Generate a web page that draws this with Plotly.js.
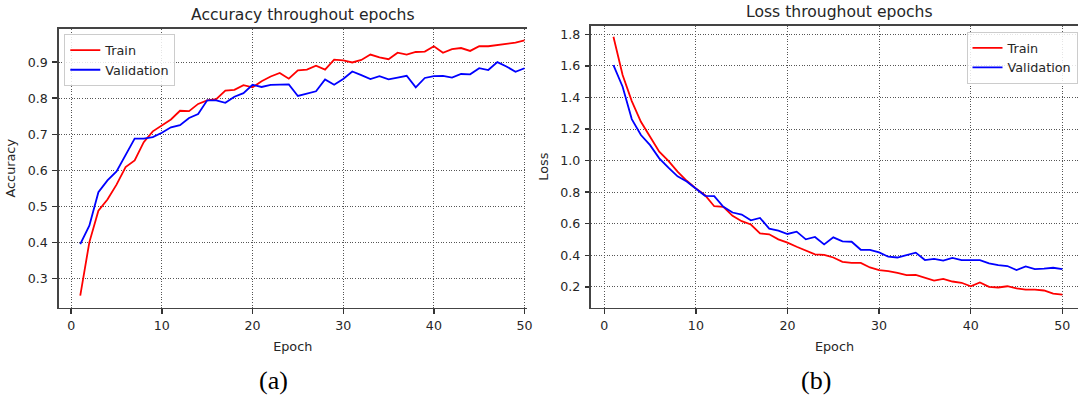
<!DOCTYPE html>
<html>
<head>
<meta charset="utf-8">
<script src="https://cdn.plot.ly/plotly-3.0.1.min.js"></script>
<style>html,body{margin:0;padding:0;background:#fff;}#chart{width:1078px;height:395px;}</style>
</head>
<body>
<div id="chart"></div>
<script>
const epochs = [1,2,3,4,5,6,7,8,9,10,11,12,13,14,15,16,17,18,19,20,21,22,23,24,25,26,27,28,29,30,31,32,33,34,35,36,37,38,39,40,41,42,43,44,45,46,47,48,49,50];

const accTrain = [0.252,0.400,0.488,0.519,0.560,0.609,0.627,0.678,0.708,0.725,
                  0.741,0.765,0.764,0.784,0.794,0.797,0.821,0.823,0.836,0.830,
                  0.847,0.860,0.870,0.854,0.877,0.879,0.890,0.879,0.907,0.905,
                  0.899,0.906,0.921,0.913,0.908,0.926,0.921,0.928,0.929,0.944,
                  0.926,0.936,0.939,0.931,0.944,0.944,0.947,0.951,0.954,0.960];
const accVal = [0.395,0.446,0.539,0.572,0.597,0.641,0.688,0.688,0.692,0.704,
                0.719,0.725,0.745,0.756,0.794,0.794,0.787,0.804,0.814,0.837,
                0.831,0.837,0.837,0.838,0.806,0.812,0.819,0.852,0.837,0.853,
                0.874,0.864,0.853,0.861,0.852,0.857,0.862,0.830,0.856,0.861,
                0.862,0.857,0.867,0.866,0.883,0.878,0.900,0.888,0.873,0.883];
const lossTrain = [1.785,1.542,1.377,1.246,1.151,1.056,0.998,0.930,0.872,0.823,
                   0.781,0.711,0.707,0.650,0.616,0.595,0.539,0.533,0.501,0.480,
                   0.454,0.429,0.406,0.403,0.386,0.359,0.352,0.352,0.323,0.306,
                   0.300,0.289,0.274,0.276,0.260,0.240,0.251,0.234,0.226,0.204,
                   0.228,0.200,0.196,0.204,0.191,0.183,0.183,0.177,0.157,0.151];
const lossVal = [1.605,1.468,1.263,1.162,1.098,1.014,0.955,0.900,0.868,0.823,
                 0.777,0.775,0.707,0.671,0.658,0.622,0.637,0.569,0.556,0.535,
                 0.550,0.501,0.516,0.469,0.514,0.488,0.486,0.435,0.435,0.418,
                 0.391,0.386,0.401,0.417,0.370,0.377,0.366,0.383,0.370,0.370,
                 0.370,0.349,0.338,0.332,0.306,0.330,0.313,0.315,0.321,0.313];

const seriesNames = ["Train", "Validation"];
const panelTitles = ["Accuracy throughout epochs", "Loss throughout epochs"];
const yTitles = ["Accuracy", "Loss"];
const xTitle = "Epoch";
const panelLabels = ["(a)", "(b)"];
const xTicks = [0,10,20,30,40,50];
const accTicks = [0.3,0.4,0.5,0.6,0.7,0.8,0.9];
const lossTicks = [0.2,0.4,0.6,0.8,1.0,1.2,1.4,1.6,1.8];

const RED = '#ff0000', BLUE = '#0000ff';
const FONT = 'DejaVu Sans, sans-serif';
const TXT = '#262626';
const W = 1078, H = 395;
const px = v => v / W;
const py = v => (H - v) / H;

const traces = [
  {x: epochs, y: accTrain, name: seriesNames[0], type: 'scatter', mode: 'lines', line: {color: RED, width: 1.8}, xaxis: 'x', yaxis: 'y', legend: 'legend'},
  {x: epochs, y: accVal, name: seriesNames[1], type: 'scatter', mode: 'lines', line: {color: BLUE, width: 1.8}, xaxis: 'x', yaxis: 'y', legend: 'legend'},
  {x: epochs, y: lossTrain, name: seriesNames[0], type: 'scatter', mode: 'lines', line: {color: RED, width: 1.8}, xaxis: 'x2', yaxis: 'y2', legend: 'legend2'},
  {x: epochs, y: lossVal, name: seriesNames[1], type: 'scatter', mode: 'lines', line: {color: BLUE, width: 1.8}, xaxis: 'x2', yaxis: 'y2', legend: 'legend2'}
];

const common = {
  showgrid: true, gridcolor: '#555', griddash: '1px,1.6px', gridwidth: 1,
  zeroline: false, showline: true, linecolor: '#444', linewidth: 1.6,
  ticks: 'outside', ticklen: 4.5, tickwidth: 1.4, tickcolor: '#333',
  tickfont: {family: FONT, size: 12.6, color: TXT}
};

const legendStyle = {
  bgcolor: 'rgba(255,255,255,0.85)', bordercolor: '#cccccc', borderwidth: 1,
  font: {family: FONT, size: 12.8, color: TXT},
  xanchor: 'left', yanchor: 'top', tracegroupgap: 0
};

const layout = {
  width: W, height: H,
  margin: {l: 0, r: 0, t: 0, b: 0},
  paper_bgcolor: '#fff', plot_bgcolor: '#fff',
  showlegend: true,
  xaxis: Object.assign({}, common, {
    domain: [px(58.5), px(527)], range: [-1.4, 50.27], tickvals: xTicks, mirror: true,
    ticklabelstandoff: 1,
    anchor: 'y', title: {text: xTitle, font: {family: FONT, size: 12.8, color: TXT}, standoff: 10}
  }),
  yaxis: Object.assign({}, common, {
    domain: [py(307.5), py(29)], range: [0.2193, 0.9918], tickvals: accTicks, tickformat: '.1f',
    ticklabelstandoff: 2,
    anchor: 'x', title: {text: yTitles[0], font: {family: FONT, size: 12.8, color: TXT}, standoff: 9}
  }),
  xaxis2: Object.assign({}, common, {
    domain: [px(591), 1], range: [-1.45, 51.71], tickvals: xTicks, mirror: true,
    ticklabelstandoff: 1,
    anchor: 'y2', title: {text: xTitle, font: {family: FONT, size: 12.8, color: TXT}, standoff: 10}
  }),
  yaxis2: Object.assign({}, common, {
    domain: [py(307.5), py(25.7)], range: [0.0693, 1.8546], tickvals: lossTicks, tickformat: '.1f',
    ticklabelstandoff: 2,
    anchor: 'x2', title: {text: yTitles[1], font: {family: FONT, size: 12.8, color: TXT}, standoff: 9}
  }),
  legend: Object.assign({}, legendStyle, {x: px(64.3), y: py(34.3)}),
  legend2: Object.assign({}, legendStyle, {x: px(966.5), y: py(32)}),
  annotations: [
    {text: panelTitles[0], xref: 'paper', yref: 'paper', x: px(302.6), y: py(15.5), xanchor: 'center', yanchor: 'middle', showarrow: false, font: {family: FONT, size: 15.6, color: TXT}},
    {text: panelTitles[1], xref: 'paper', yref: 'paper', x: px(839), y: py(12), xanchor: 'center', yanchor: 'middle', showarrow: false, font: {family: FONT, size: 15.6, color: TXT}},
    {text: panelLabels[0], xref: 'paper', yref: 'paper', x: px(273.5), y: py(380.5), xanchor: 'center', yanchor: 'middle', showarrow: false, font: {family: 'Liberation Serif, Times New Roman, serif', size: 26, color: '#000'}},
    {text: panelLabels[1], xref: 'paper', yref: 'paper', x: px(815.6), y: py(380.5), xanchor: 'center', yanchor: 'middle', showarrow: false, font: {family: 'Liberation Serif, Times New Roman, serif', size: 26, color: '#000'}}
  ]
};

Plotly.newPlot('chart', traces, layout, {staticPlot: true, displayModeBar: false});
</script>
</body>
</html>
